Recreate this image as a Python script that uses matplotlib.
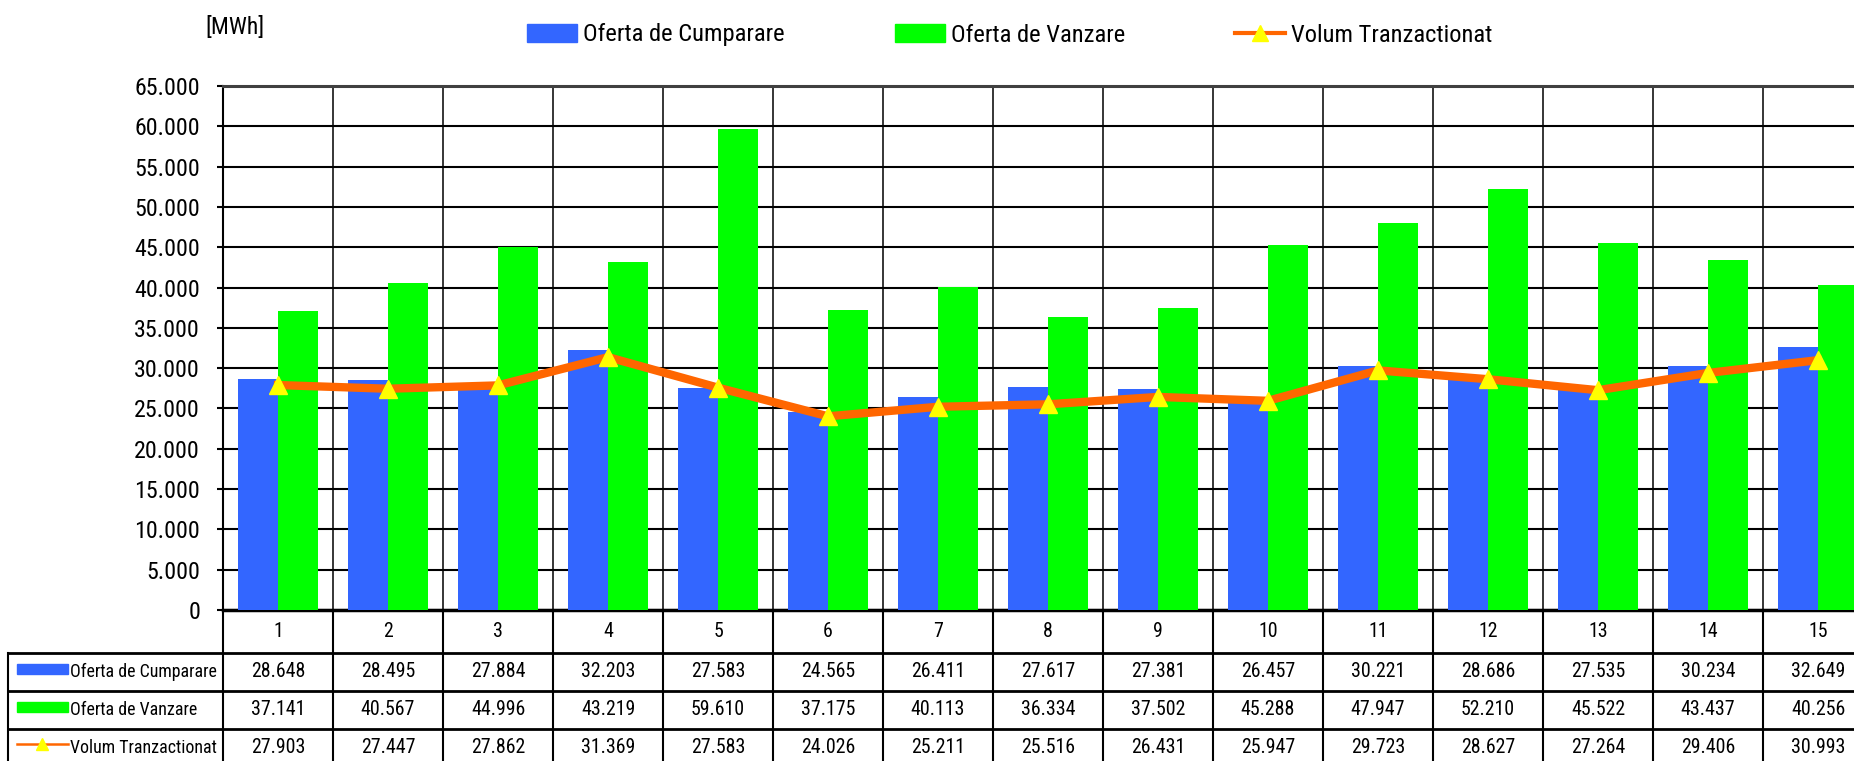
import matplotlib.pyplot as plt
from matplotlib import font_manager
from matplotlib.patches import Patch, Rectangle
from matplotlib.lines import Line2D

# data
ore = ['1', '2', '3', '4', '5', '6', '7', '8', '9', '10', '11', '12', '13', '14', '15']
cumparare = [28648, 28495, 27884, 32203, 27583, 24565, 26411, 27617, 27381, 26457, 30221, 28686, 27535, 30234, 32649]
vanzare = [37141, 40567, 44996, 43219, 59610, 37175, 40113, 36334, 37502, 45288, 47947, 52210, 45522, 43437, 40256]
volum = [27903, 27447, 27862, 31369, 27583, 24026, 25211, 25516, 26431, 25947, 29723, 28627, 27264, 29406, 30993]
serii = ['Oferta de Cumparare', 'Oferta de Vanzare', 'Volum Tranzactionat']

BLUE = '#3366FF'
GREEN = '#00FF00'
ORANGE = '#FF6600'
YELLOW = '#FFFF00'

# the original uses a narrow Arial; take a condensed sans if one is installed
family, stretch = 'Liberation Sans', 'normal'
narrow = [f for f in font_manager.fontManager.ttflist
          if (f.stretch in ('condensed', 'semi-condensed', 'extra-condensed')
              or 'Narrow' in f.name or 'Condensed' in f.name)
          and f.style == 'normal' and f.weight in (400, 'normal', 'regular')]
for pref in ['Liberation Sans Narrow', 'Arial Narrow', 'Roboto', 'Open Sans', 'Noto Sans', 'Lato', 'DejaVu Sans']:
    hit = [f for f in narrow if f.name.startswith(pref)]
    if hit:
        family, stretch = hit[0].name, hit[0].stretch
        break
plt.rcParams['font.family'] = [family, 'DejaVu Sans']
plt.rcParams['font.stretch'] = stretch

W, H = 1854, 761


def px(l, t, r, b):
    return [l / W, 1 - b / H, (r - l) / W, (b - t) / H]


def fmt(v):
    return f"{v:,}".replace(",", ".")


fig = plt.figure(figsize=(W / 100, H / 100), dpi=100)
rend = fig.canvas.get_renderer()


def fit(s, target, grow=1.0):
    # font size that gives the text the width (px) it has in the original
    t = fig.text(0, 0, s, fontsize=10)
    w = t.get_window_extent(renderer=rend).width
    t.remove()
    return 10 * target / w * grow


fs_tick = fit('65.000', 61, 1.06)
fs_leg = fit('Oferta de Cumparare', 200)
fs_unit = fit('[MWh]', 56, 1.06)
fs_num = fit('30.234', 50, 1.08)
fs_lab = fit('Oferta de Cumparare', 146)
fs_cat = fs_num

# ---- main chart
ax = fig.add_axes(px(223, 86, 1873, 610))
x = list(range(len(ore)))
bw = 40 / 110
ax.bar([i - bw / 2 for i in x], cumparare, width=bw, color=BLUE, zorder=3)
ax.bar([i + bw / 2 for i in x], vanzare, width=bw, color=GREEN, zorder=3)
ax.plot(x, volum, color=ORANGE, lw=6, marker='^', ms=13, mfc=YELLOW, mec=YELLOW,
        zorder=5, clip_on=False)

ax.set_xlim(-0.5, 14.5)
ax.set_ylim(0, 65000)
yt = list(range(0, 65001, 5000))
ax.set_yticks(yt)
ax.set_yticklabels([fmt(v) for v in yt], fontsize=fs_tick)
ax.set_xticks([])
ax.tick_params(axis='y', length=4, width=1.5, pad=12.5)
for v in yt:
    ax.axhline(v, color='black', lw=1.5, zorder=1)
for i in range(len(ore)):
    ax.axvline(i + 0.5, color='black', lw=1.1, zorder=1)
ax.spines['left'].set_linewidth(1.5)
ax.spines['bottom'].set_linewidth(2.5)
ax.spines['top'].set_color('#404040')
ax.spines['top'].set_linewidth(2.2)
ax.spines['right'].set_visible(False)

fig.text(205 / W, 1 - 28 / H, '[MWh]', fontsize=fs_unit, ha='left', va='center')

em = fs_leg * 100 / 72
handles = [Patch(color=BLUE), Patch(color=GREEN),
           Line2D([], [], color=ORANGE, lw=3, marker='^', ms=11, mfc=YELLOW, mec=YELLOW)]
leg = fig.legend(handles, serii, loc='center left', bbox_to_anchor=(505 / W, 1 - 35 / H), ncol=3,
                 frameon=False, fontsize=fs_leg, handlelength=50 / em,
                 handleheight=0.75, handletextpad=0.25, columnspacing=110 / em)

# ---- data table under the chart
tax = fig.add_axes(px(8, 610, 1873, 767))
tax.set_xlim(-0.5 - 215 / 110, 14.5)
tax.set_ylim(767, 610)
tax.axis('off')


def dx(p):
    return -0.5 + (p - 223) / 110


left = dx(8)
rows_y = [653, 691, 729, 767]
for k in range(len(ore) + 1):
    tax.plot([k - 0.5, k - 0.5], [610, 767], color='black', lw=1.5, clip_on=False)
tax.plot([left, left], [653, 767], color='black', lw=1.5, clip_on=False)
for y in rows_y:
    tax.plot([left, 14.5], [y, y], color='black', lw=2.0, clip_on=False)

for i, lab in enumerate(ore):
    tax.text(i, 632, lab, ha='center', va='center', fontsize=fs_cat)

valori = [cumparare, vanzare, volum]
for r, serie in enumerate(valori):
    yc = (rows_y[r] + rows_y[r + 1]) / 2
    for i, v in enumerate(serie):
        tax.text(i, yc, fmt(v), ha='center', va='center', fontsize=fs_num)
    tax.text(dx(70), yc, serii[r], ha='left', va='center', fontsize=fs_lab)

tax.add_patch(Rectangle((dx(17), 664), dx(68) - dx(17), 10, color=BLUE, clip_on=False))
tax.add_patch(Rectangle((dx(17), 702), dx(68) - dx(17), 10, color=GREEN, clip_on=False))
tax.plot([dx(17), dx(68)], [744, 744], color=ORANGE, lw=1.8, clip_on=False)
tax.plot([dx(42)], [744], marker='^', ms=8, mfc=YELLOW, mec=YELLOW, clip_on=False)

fig.savefig('out.png', dpi=100)
